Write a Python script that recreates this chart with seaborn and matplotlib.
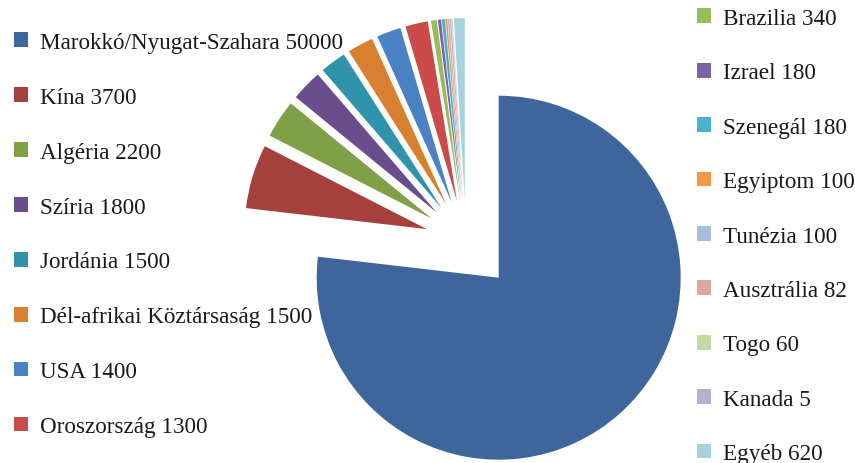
import matplotlib
matplotlib.use("Agg")
import matplotlib.pyplot as plt
import seaborn as sns

countries = ["Marokkó/Nyugat-Szahara", "Kína", "Algéria", "Szíria", "Jordánia",
             "Dél-afrikai Köztársaság", "USA", "Oroszország", "Brazilia", "Izrael",
             "Szenegál", "Egyiptom", "Tunézia", "Ausztrália", "Togo", "Kanada", "Egyéb"]
reserves = [50000, 3700, 2200, 1800, 1500, 1500, 1400, 1300, 340, 180,
            180, 100, 100, 82, 60, 5, 620]
colors = ["#3E669C", "#A5403D", "#7FA046", "#694D8D", "#2F94AB", "#D8802F",
          "#4A82C6", "#CB4A4A", "#9ABB59", "#7E62A6", "#4AB0CB", "#F79646",
          "#A7BDE0", "#DCA6A6", "#C6D9A7", "#B9AED0", "#A6D2E0"]
explode = [0.27] + [0.225] * (len(reserves) - 1)

sns.set_style("white")
plt.rcParams["font.family"] = ["Liberation Serif", "DejaVu Serif"]
palette = sns.color_palette(colors)

fig = plt.figure(figsize=(8.55, 4.64), dpi=100)
ax = fig.add_axes([0, 0, 1, 1])
wedges, _ = ax.pie(reserves, colors=palette, startangle=90, counterclock=False,
                   explode=explode, wedgeprops=dict(linewidth=0))
# 1 data unit = 182 px, pie centre at pixel (466, 242)
r = 182
ax.set_xlim(-466 / r, (855 - 466) / r)
ax.set_ylim(-(464 - 242) / r, 242 / r)
ax.set_aspect("equal", adjustable="datalim")
ax.axis("off")

labels = [f"{c} {v}" for c, v in zip(countries, reserves)]
kw = dict(frameon=False, fontsize=16.7, handlelength=0.6, handleheight=0.6,
          handletextpad=0.5, borderpad=0, borderaxespad=0, labelcolor="#1a1a1a")
leg1 = fig.legend(wedges[:8], labels[:8], loc="upper left", labelspacing=1.46,
                  bbox_to_anchor=(14 / 855, 1 - 33 / 464), **kw)
leg2 = fig.legend(wedges[8:], labels[8:], loc="upper left", labelspacing=1.44,
                  bbox_to_anchor=(697 / 855, 1 - 9 / 464), **kw)

fig.savefig("out.png", dpi=100)
plt.close(fig)
